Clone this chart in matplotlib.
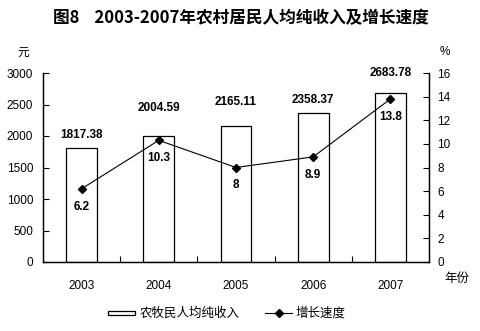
import numpy as np
import matplotlib
matplotlib.use('Agg')
import matplotlib.pyplot as plt
from matplotlib.patches import Rectangle
from matplotlib.lines import Line2D

plt.rcParams['font.family'] = ['Liberation Sans', 'Noto Sans CJK SC', 'DejaVu Sans']
CJK = ['Noto Sans CJK SC', 'DejaVu Sans']

years = ['2003', '2004', '2005', '2006', '2007']
income = [1817.38, 2004.59, 2165.11, 2358.37, 2683.78]
growth = [6.2, 10.3, 8, 8.9, 13.8]
growth_txt = ['6.2', '10.3', '8', '8.9', '13.8']
# label gap above bar tops (pixels), labels were placed by hand in the source
income_lbl_dy = [13, 28, 24, 13, 20]

fig = plt.figure(figsize=(4.81, 3.31), dpi=100)
ax = fig.add_axes([43/481, 1 - 262/331, (429 - 43)/481, (262 - 73)/331])
ax2 = ax.twinx()

x = np.arange(len(years))
ax.bar(x, income, width=0.4, facecolor='white', edgecolor='black', linewidth=0.9, zorder=2)
ax.set_xlim(-0.5, len(years) - 0.5)
ax.set_ylim(0, 3000)
ax.set_yticks(np.arange(0, 3001, 500))
ax.set_xticks(x)
ax.set_xticklabels(years)
ax.set_xticks(np.arange(0.5, len(years) - 0.5, 1), minor=True)
ax.tick_params(axis='x', which='major', length=0, pad=13, labelsize=8.5)
ax.tick_params(axis='x', which='minor', direction='in', length=4, width=0.8)
ax.tick_params(axis='y', direction='in', length=4, width=0.8, pad=7, labelsize=8.5)

for xi, v, dy in zip(x, income, income_lbl_dy):
    ax.annotate(f'{v:.2f}', (xi, v), xytext=(0, dy * 0.72), textcoords='offset points',
                ha='center', va='center', fontsize=8.5, fontweight='bold')

ax2.plot(x, growth, color='black', linewidth=0.8, marker='D', markersize=4.5, zorder=3)
ax2.set_ylim(0, 16)
ax2.set_yticks(np.arange(0, 17, 2))
ax2.tick_params(axis='y', direction='in', length=4, width=0.8, pad=6, labelsize=8.5)
for xi, v, t in zip(x, growth, growth_txt):
    ax2.annotate(t, (xi, v), xytext=(0, -18 * 0.72), textcoords='offset points',
                 ha='center', va='center', fontsize=8.5, fontweight='bold')

for a in (ax, ax2):
    a.spines['top'].set_visible(False)
    for s in ('left', 'right', 'bottom'):
        a.spines[s].set_linewidth(0.9)

fig.text(241/481, 1 - 18/331, '图8    2003-2007年农村居民人均纯收入及增长速度',
         ha='center', va='center', fontsize=12, fontweight='bold', family=CJK)
fig.text(23/481, 1 - 52/331, '元', ha='center', va='center', fontsize=8.5, family=CJK)
fig.text(445/481, 1 - 52/331, '%', ha='center', va='center', fontsize=8.5)
fig.text(457/481, 1 - 278/331, '年份', ha='center', va='center', fontsize=9, family=CJK)

# legend drawn in figure pixels
fig.add_artist(Rectangle((108/481, 1 - 315/331), 27/481, 4/331, transform=fig.transFigure,
                         facecolor='white', edgecolor='black', linewidth=0.9))
fig.text(140/481, 1 - 313/331, '农牧民人均纯收入', ha='left', va='center', fontsize=9, family=CJK)
fig.add_artist(Line2D([265/481, 292/481], [1 - 313/331, 1 - 313/331], transform=fig.transFigure,
                      color='black', linewidth=0.8))
fig.add_artist(Line2D([279/481], [1 - 313/331], transform=fig.transFigure, color='black',
                      marker='D', markersize=4.5))
fig.text(296/481, 1 - 313/331, '增长速度', ha='left', va='center', fontsize=9, family=CJK)

fig.savefig('out.png', dpi=100)
